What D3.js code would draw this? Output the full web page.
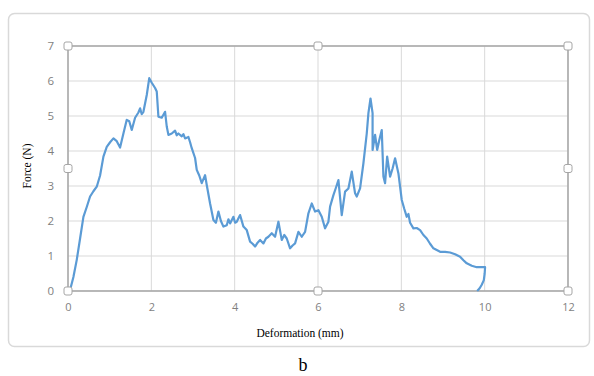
<!DOCTYPE html>
<html><head><meta charset="utf-8">
<script src="https://cdn.jsdelivr.net/npm/d3@7/dist/d3.min.js"></script>
<style>body{margin:0;background:#fff}svg{display:block}</style>
</head><body>
<svg id="c" width="594" height="376"></svg>
<script>
const deformation = [0,0.05,0.13,0.21,0.29,0.37,0.45,0.53,0.61,0.69,0.77,0.85,0.93,1.01,1.09,1.17,1.25,1.33,1.41,1.47,1.53,1.61,1.69,1.73,1.77,1.81,1.89,1.95,2.01,2.09,2.13,2.17,2.25,2.33,2.37,2.41,2.49,2.57,2.61,2.65,2.73,2.77,2.81,2.89,2.93,2.97,3.05,3.09,3.15,3.21,3.29,3.33,3.41,3.49,3.55,3.61,3.67,3.73,3.81,3.85,3.89,3.97,4.01,4.05,4.13,4.21,4.29,4.37,4.43,4.49,4.55,4.61,4.69,4.75,4.81,4.89,4.97,5.05,5.13,5.19,5.25,5.33,5.39,5.45,5.53,5.61,5.69,5.77,5.85,5.93,6.01,6.09,6.17,6.25,6.29,6.37,6.43,6.49,6.57,6.65,6.73,6.81,6.89,6.93,7.01,7.09,7.17,7.21,7.26,7.31,7.31,7.37,7.42,7.47,7.53,7.57,7.61,7.66,7.73,7.79,7.85,7.93,8.01,8.07,8.13,8.17,8.21,8.29,8.37,8.45,8.53,8.61,8.69,8.77,8.85,8.93,9.05,9.17,9.29,9.41,9.49,9.57,9.69,9.81,9.93,10.01,10.0,9.98,9.93,9.88,9.82];
const force = [0,0.03,0.4,0.89,1.5,2.12,2.4,2.7,2.85,2.98,3.3,3.84,4.12,4.25,4.36,4.28,4.1,4.5,4.89,4.85,4.6,4.95,5.1,5.22,5.05,5.12,5.6,6.08,5.95,5.8,5.7,4.98,4.95,5.12,4.7,4.46,4.5,4.58,4.45,4.5,4.42,4.48,4.36,4.4,4.25,4.08,3.8,3.46,3.3,3.08,3.31,3.03,2.5,2.03,1.95,2.27,2.0,1.84,1.88,2.05,1.93,2.12,1.95,1.98,2.17,1.84,1.74,1.41,1.35,1.27,1.38,1.46,1.36,1.5,1.55,1.65,1.55,1.98,1.46,1.6,1.5,1.22,1.3,1.36,1.69,1.55,1.69,2.22,2.5,2.27,2.31,2.12,1.79,1.98,2.41,2.74,2.95,3.17,2.17,2.84,2.93,3.41,2.79,2.7,2.93,3.65,4.5,5.08,5.5,5.08,4.03,4.46,4.03,4.31,4.6,3.27,3.08,3.84,3.27,3.5,3.79,3.36,2.6,2.35,2.12,2.2,1.95,1.79,1.8,1.74,1.6,1.5,1.35,1.22,1.17,1.12,1.12,1.1,1.05,0.98,0.88,0.79,0.72,0.68,0.68,0.68,0.5,0.31,0.18,0.08,0];
const xTicks = [0,2,4,6,8,10,12];
const yTicks = [0,1,2,3,4,5,6,7];

const svg = d3.select('#c');
const L=68,R=568,T=46,B=291;
const x = d3.scaleLinear().domain([0,12]).range([L,R]);
const y = d3.scaleLinear().domain([0,7]).range([B,T]);

svg.append('rect').attr('x',8.5).attr('y',13.5).attr('width',581).attr('height',333).attr('rx',6)
  .attr('fill','#fff').attr('stroke','#d9d9d9').attr('stroke-width',1.5);

const grid = svg.append('g').attr('stroke','#d9d9d9').attr('stroke-width',1);
grid.selectAll('.h').data(yTicks).enter().append('line')
  .attr('x1',L).attr('x2',R).attr('y1',d=>y(d)).attr('y2',d=>y(d));
grid.selectAll('.v').data(xTicks).enter().append('line')
  .attr('y1',T).attr('y2',B).attr('x1',d=>x(d)).attr('x2',d=>x(d));

svg.append('rect').attr('x',L).attr('y',T).attr('width',R-L).attr('height',B-T)
  .attr('fill','none').attr('stroke','#a6a6a6').attr('stroke-width',1.5);

const pts = deformation.map((d,i)=>[d,force[i]]);
svg.append('path').datum(pts)
  .attr('d',d3.line().x(d=>x(d[0])).y(d=>y(d[1])))
  .attr('fill','none').attr('stroke','#5b9bd5').attr('stroke-width',2.2).attr('stroke-linejoin','round');

const ax = d3.axisBottom(x).tickValues(xTicks).tickFormat(d3.format('d')).tickSize(0).tickPadding(12);
const gx = svg.append('g').attr('transform',`translate(0,${B})`).call(ax);
gx.select('.domain').remove();
gx.selectAll('text').attr('font-family','Open Sans, sans-serif').attr('font-size',11).attr('fill','#7f7f7f');
const ay = d3.axisLeft(y).tickValues(yTicks).tickFormat(d3.format('d')).tickSize(0).tickPadding(14);
const gy = svg.append('g').attr('transform',`translate(${L},0)`).call(ay);
gy.select('.domain').remove();
gy.selectAll('text').attr('font-family','Open Sans, sans-serif').attr('font-size',11.5).attr('fill','#7f7f7f');

const handles = [[L,T],[(L+R)/2,T],[R,T],[L,(T+B)/2],[R,(T+B)/2],[L,B],[(L+R)/2,B],[R,B]];
svg.selectAll('.hd').data(handles).enter().append('rect')
  .attr('x',d=>d[0]-4).attr('y',d=>d[1]-4).attr('width',8).attr('height',8).attr('rx',2)
  .attr('fill','#fff').attr('stroke','#a6a6a6').attr('stroke-width',1);

svg.append('text').attr('x',300).attr('y',337).attr('text-anchor','middle')
  .attr('font-family','Liberation Serif, serif').attr('font-size',11.5).attr('fill','#000').text('Deformation (mm)');
svg.append('text').attr('transform','translate(31,166) rotate(-90)').attr('text-anchor','middle')
  .attr('font-family','Liberation Serif, serif').attr('font-size',11.5).attr('fill','#000').text('Force (N)');
svg.append('text').attr('x',303).attr('y',371).attr('text-anchor','middle')
  .attr('font-family','Liberation Serif, serif').attr('font-size',18).attr('fill','#000').text('b');
</script>
</body></html>
